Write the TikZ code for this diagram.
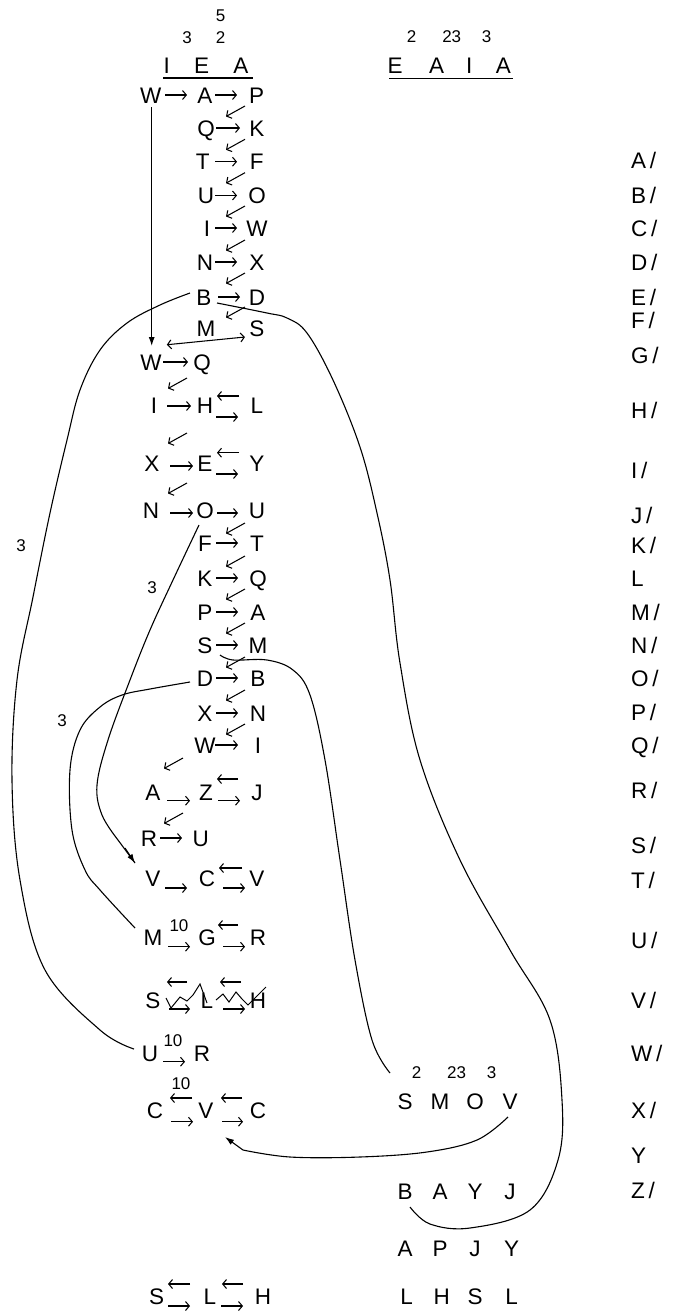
\documentclass[tikz,border=0pt]{standalone}
\usepackage{fontspec}
\setmainfont{Liberation Sans}
\usetikzlibrary{arrows.meta}
\newcommand\lsz{\fontsize{22.5}{24}\selectfont}
\newcommand\ssz{\fontsize{17}{19}\selectfont}
\newcommand\myL[4]{\node[lt] (#1) at (#2,#3) {#4};}
\newcommand\myN[4]{\node[nm] (#1) at (#2,#3) {#4};}
\newcommand\myR[3]{\draw[ar] (#1,#3) -- (#2,#3);}
\newcommand\myLa[3]{\draw[ar] (#2,#3) -- (#1,#3);}
\newcommand\myD[2]{\draw[ar] (#1,#2) -- ++(-19,10.5);}
\newcommand\myRS[2]{\node[lt,anchor=west] (#1) at (631,#2) {#1\,/};}
\begin{document}
\begin{tikzpicture}[x=1pt,y=-1pt,
  lt/.style={font=\lsz,inner sep=0pt,text height=16.1pt,text depth=0pt,anchor=center},
  nm/.style={font=\ssz,inner sep=0pt,text height=12.2pt,text depth=0pt,anchor=center},
  ar/.style={-{Straight Barb[length=3.8pt,width=9pt]},line width=1.05pt},
  big/.style={line width=1.1pt},
  fill tip/.style={-{Latex[length=9pt,width=6pt]},line width=1.1pt}]
\useasboundingbox (0,0) rectangle (687,1315);
% ---------- left header
\myN{h5}{220.7}{15}{5}
\myN{h3}{187}{37}{3}
\myN{h2}{220.7}{37}{2}
\myL{hI}{166.7}{65}{I}
\myL{hE}{201.7}{65}{E}
\myL{hA}{241}{65}{A}
\draw[line width=1.4pt] (163,78) -- (253,78);
% ---------- right header
\myN{g2}{411.7}{36.7}{2}
\myN{g23}{451.7}{36.7}{23}
\myN{g3}{486.7}{36.7}{3}
\myL{gE}{395}{65}{E}
\myL{gA}{436.7}{65}{A}
\myL{gI}{469.3}{65}{I}
\myL{gA2}{503.3}{65}{A}
\draw[line width=1.4pt] (389,78.3) -- (512.7,78.3);
% ---------- left column rows
\myL{r1W}{150.7}{95}{W}\myL{r1A}{205}{95}{A}\myL{r1P}{256.7}{95}{P}
\myR{165}{187}{95}\myR{215}{237}{95}
\myD{245}{106}
\myL{r2Q}{206}{128}{Q}\myL{r2K}{257}{128}{K}\myR{216}{240}{128}
\myD{245}{139.3}
\myL{r3T}{202.7}{161.7}{T}\myL{r3F}{256.7}{161.7}{F}\myR{215}{237}{161.7}
\myD{245}{172.7}
\myL{r4U}{206}{195.5}{U}\myL{r4O}{257}{195.5}{O}\myR{215}{237}{195.5}
\myD{245}{206}
\myL{r5I}{207}{228}{I}\myL{r5W}{257}{228}{W}\myR{215}{237}{228}
\myD{245}{240}
\myL{r6N}{205}{262}{N}\myL{r6X}{257}{262}{X}\myR{215}{237}{262}
\myD{245}{273}
\myL{r7B}{204}{297}{B}\myL{r7D}{257}{297}{D}\myR{218}{240}{297}
\myD{245}{307}
\myL{r8M}{206}{328}{M}\myL{r8S}{257}{328}{S}
\myL{r9W}{151}{362}{W}\myL{r9Q}{202}{362}{Q}\myR{163}{188}{362}
\draw[{Straight Barb[length=3.8pt,width=9pt]}-{Straight Barb[length=3.8pt,width=9pt]},line width=1.05pt] (r9W.north east) ++(5,-9) coordinate (dw) -- (245,337) coordinate (ds);
\myD{187}{378}
\myL{r10I}{154}{405}{I}\myL{r10H}{205}{405}{H}\myL{r10L}{257}{405}{L}
\myR{167}{191}{406}\myLa{217}{239}{396}\myR{216}{238}{417}
\myD{187}{433}
\myL{r11X}{152}{463}{X}\myL{r11E}{205}{463}{E}\myL{r11Y}{257}{463}{Y}
\myR{170}{193}{466}\myLa{217}{239}{452.7}\myR{216}{238}{474}
\myD{187}{483}
\myL{r12N}{151}{510}{N}\myL{r12O}{205}{510}{O}\myL{r12U}{257}{510}{U}
\myR{170}{193}{513}\myR{217}{238}{513}
\myD{245}{523}
\myL{r13F}{205}{543}{F}\myL{r13T}{257}{543}{T}\myR{216}{238}{543}
\myD{245}{556}
\myL{r14K}{205}{578}{K}\myL{r14Q}{258}{578}{Q}\myR{216}{238}{578}
\myD{245}{589}
\myL{r15P}{205}{612}{P}\myL{r15A}{258}{612}{A}\myR{216}{238}{612}
\myD{245}{623}
\myL{r16S}{205}{645}{S}\myL{r16M}{258}{645}{M}\myR{216}{238}{645}
\myD{245}{657}
\myL{r17D}{205}{678}{D}\myL{r17B}{258}{678}{B}\myR{216}{238}{678}
\myD{245}{690}
\myL{r18X}{205}{713}{X}\myL{r18N}{258}{713}{N}\myR{216}{238}{713}
\myD{245}{724}
\myL{r19W}{205}{745}{W}\myL{r19I}{258}{745}{I}\myR{215}{238}{745}
\myD{183}{758}
\myL{r20A}{153}{792}{A}\myL{r20Z}{206}{792}{Z}\myL{r20J}{257}{792}{J}
\myR{167}{190}{800.7}\myLa{217}{238}{779}\myR{218}{240}{800.7}
\myD{183}{813}
\myL{r21R}{149}{838}{R}\myL{r21U}{200.7}{838}{U}\myR{160}{182}{838}
\myL{r22V}{153}{878}{V}\myL{r22C}{207}{878}{C}\myL{r22V2}{257}{878}{V}
\myR{165}{187}{888}\myLa{219}{242}{868}\myR{223}{245}{888}
\myL{r23M}{153}{937}{M}\myL{r23G}{207}{937}{G}\myL{r23R}{258}{937}{R}
\myR{168}{190}{946.7}\myN{r23n}{179}{925}{10}\myLa{218}{238}{925}\myR{223}{245}{946.7}
\myL{r24S}{153}{1000}{S}\myL{r24L}{207}{1000}{L}\myL{r24H}{258}{1000}{H}
\myLa{167}{187}{982}\myR{169}{190}{1009}\myLa{220}{241}{982}\myR{223}{245}{1009}
\draw[line width=1pt] (166,998) -- (171,1008) -- (180,997) -- (187,1001) -- (193,995) -- (200,984) -- (207,1003)
  (216,1000) -- (223,994) -- (229,1002) -- (236,992) -- (242,999) -- (248,1005) -- (266,987);
\myL{r25U}{150}{1053}{U}\myL{r25R}{202}{1053}{R}
\myR{163}{185}{1061.7}\myN{r25n}{173}{1040}{10}
\myL{r26C}{155}{1110}{C}\myL{r26V}{206}{1110}{V}\myL{r26C2}{258}{1110}{C}
\myN{r26n}{181}{1083}{10}
\myLa{170}{192}{1098}\myR{171}{193}{1121.7}\myLa{221}{242}{1098}\myR{222}{243}{1121.7}
% bottom left
\myL{b1S}{156.7}{1296.7}{S}\myL{b1L}{210}{1296.7}{L}\myL{b1H}{263}{1296.7}{H}
\myLa{168}{190}{1284}\myR{168}{190}{1306}\myLa{222}{243}{1284}\myR{221}{243}{1306}
% ---------- right bottom block
\myN{s2}{416.7}{1072}{2}\myN{s23}{456.7}{1072}{23}\myN{s3}{491.7}{1072}{3}
\myL{sS}{405}{1101.7}{S}\myL{sM}{440}{1101.7}{M}\myL{sO}{475}{1101.7}{O}\myL{sV}{510}{1101.7}{V}
\myL{tB}{405}{1191.7}{B}\myL{tA}{440}{1191.7}{A}\myL{tY}{475}{1191.7}{Y}\myL{tJ}{510}{1191.7}{J}
\myL{uA}{405}{1248}{A}\myL{uP}{440}{1248}{P}\myL{uJ}{475}{1248}{J}\myL{uY}{511.7}{1248}{Y}
\myL{vL}{406.7}{1296.7}{L}\myL{vH}{441.7}{1296.7}{H}\myL{vS}{475}{1296.7}{S}\myL{vL2}{511.7}{1296.7}{L}
% ---------- right column
\myRS{A}{160}\myRS{B}{195}\myRS{C}{228}\myRS{D}{262}\myRS{E}{297}\myRS{F}{320}
\myRS{G}{355}\myRS{H}{410}\myRS{I}{470}\myRS{J}{515}\myRS{K}{545}
\node[lt,anchor=west] (L) at (631,578) {L};
\myRS{M}{612}\myRS{N}{645}\myRS{O}{678}\myRS{P}{712}\myRS{Q}{745}\myRS{R}{790}
\myRS{S}{845}\myRS{T}{880}\myRS{U}{940}\myRS{V}{1000}\myRS{W}{1053}\myRS{X}{1110}
\node[lt,anchor=west] (Y) at (631,1155) {Y};
\myRS{Z}{1190}
% ---------- long connectors
\draw[fill tip] (r1W.south) ++(1,4) -- (151.7,346) coordinate (wt);
\draw[big] plot[smooth,tension=0.6] coordinates {(190,293) (160,305) (127,323) (100,350) (80,390) (67,440) (50,513) (33,597) (17,680) (12,780) (20,880) (45,970) (100,1030) (134,1049)};
\myN{c1}{21}{545}{3}
\draw[big] plot[smooth,tension=0.6] coordinates {(217,303) (267,313) (287,318) (307,333) (333,380) (360,447) (377,513) (390,580) (400,663) (420,760) (460,860) (510,950) (550,1020) (562,1100) (558,1160) (530,1210) (470,1228) (430,1224) (410,1207)};
\draw[big] plot[smooth,tension=0.6] coordinates {(199,525) (173,580) (150,630) (130,680) (108,740) (97,785) (102,815) (118,840)} -- (135,863);
\draw[fill tip] (125,848) -- (135,863);
\myN{c2}{152}{587}{3}
\draw[big] plot[smooth,tension=0.6] coordinates {(190,682) (150,689) (122,695) (100,707) (80,730) (70,770) (72,830) (85,870) (100,890) (135,928)};
\myN{c3}{62}{720}{3}
\draw[big] plot[smooth,tension=0.6] coordinates {(220,655) (233,660) (267,660) (293,670) (310,695) (325,760) (340,860) (355,960) (372,1040) (390,1073)};
\draw[big] plot[smooth,tension=0.6] coordinates {(508,1117) (477,1140) (427,1152) (360,1157) (290,1157) (243,1150)};
\draw[fill tip] (243,1150) -- (225,1137);
\end{tikzpicture}
\end{document}
